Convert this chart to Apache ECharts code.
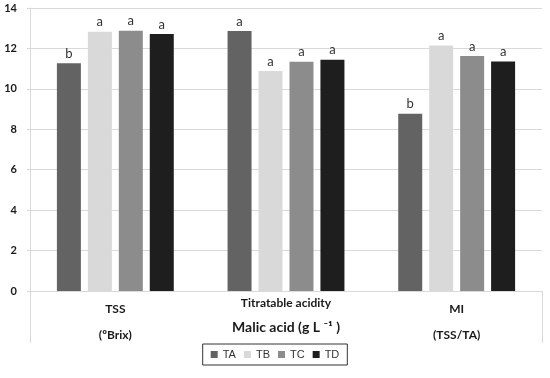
<!DOCTYPE html>
<html>
<head>
<meta charset="utf-8">
<script src="https://cdn.jsdelivr.net/npm/echarts@6/dist/echarts.min.js"></script>
<style>html,body{margin:0;padding:0;background:#fff}#c{width:550px;height:378px}</style>
</head>
<body>
<div id="c"></div>
<script>
var categories = ['TSS', 'Titratable acidity', 'MI'];
var units = ['(ºBrix)', 'Malic acid (g L ⁻¹ )', '(TSS/TA)'];
var seriesNames = ['TA', 'TB', 'TC', 'TD'];
var TA = [11.27, 12.86, 8.77];
var TB = [12.83, 10.88, 12.15];
var TC = [12.88, 11.34, 11.62];
var TD = [12.71, 11.44, 11.35];
var lettersTA = ['b', 'a', 'b'];
var lettersTB = ['a', 'a', 'a'];
var lettersTC = ['a', 'a', 'a'];
var lettersTD = ['a', 'a', 'a'];
var yTicks = [0, 2, 4, 6, 8, 10, 12, 14];

var colors = ['#636363', '#d9d9d9', '#8c8c8c', '#1e1e1e'];
var values = [TA, TB, TC, TD];
var letters = [lettersTA, lettersTB, lettersTC, lettersTD];

var chart = echarts.init(document.getElementById('c'), null, {renderer: 'canvas'});
var series = seriesNames.map(function (name, i) {
  return {
    name: name,
    type: 'bar',
    barWidth: 24,
    barGap: '29%',
    itemStyle: {color: colors[i]},
    data: values[i],
    label: {
      show: true,
      position: 'top',
      distance: 3,
      fontFamily: 'Lato',
      fontSize: 13,
      color: '#333',
      formatter: function (p) { return letters[i][p.dataIndex]; }
    }
  };
});

chart.setOption({
  animation: false,
  backgroundColor: '#fff',
  grid: {left: 30, right: 8, top: 8, bottom: 87, containLabel: false},
  legend: {
    data: seriesNames,
    left: 'center',
    top: 344,
    icon: 'rect',
    itemWidth: 7,
    itemHeight: 7,
    itemGap: 8,
    padding: [5, 8, 5, 8],
    borderColor: '#333',
    borderWidth: 1,
    textStyle: {fontFamily: 'Liberation Sans', fontSize: 11, color: '#333'}
  },
  xAxis: {
    type: 'category',
    data: categories,
    axisLine: {show: true, lineStyle: {color: '#d9d9d9', width: 1}},
    axisTick: {
      show: true,
      length: 52,
      interval: function (idx) { return idx === 0; },
      lineStyle: {color: '#d9d9d9'}
    },
    axisLabel: {
      margin: 5,
      verticalAlign: 'top',
      formatter: function (v, idx) {
        if (idx === 1) return '{b|' + v + '}\n{c|' + units[idx] + '}';
        return '{a|' + v + '}\n{a|' + units[idx] + '}';
      },
      rich: {
        a: {fontFamily: 'Lato', fontWeight: 'bold', fontSize: 12, color: '#1a1a1a', lineHeight: 26},
        b: {fontFamily: 'Lato', fontWeight: 'bold', fontSize: 12, color: '#1a1a1a', lineHeight: 14},
        c: {fontFamily: 'Lato', fontWeight: 'bold', fontSize: 14, color: '#1a1a1a', lineHeight: 34}
      }
    }
  },
  yAxis: {
    type: 'value',
    min: 0,
    max: 14,
    interval: 2,
    axisLine: {show: true, lineStyle: {color: '#d9d9d9'}},
    axisTick: {show: true, length: 3, lineStyle: {color: '#d9d9d9'}},
    splitLine: {show: true, lineStyle: {color: '#d9d9d9'}},
    axisLabel: {
      margin: 13,
      fontFamily: 'Lato',
      fontWeight: 'bold',
      fontSize: 11,
      color: '#1a1a1a',
      formatter: function (v) { return yTicks.indexOf(v) >= 0 ? String(v) : ''; }
    }
  },
  series: series
});
</script>
</body>
</html>
